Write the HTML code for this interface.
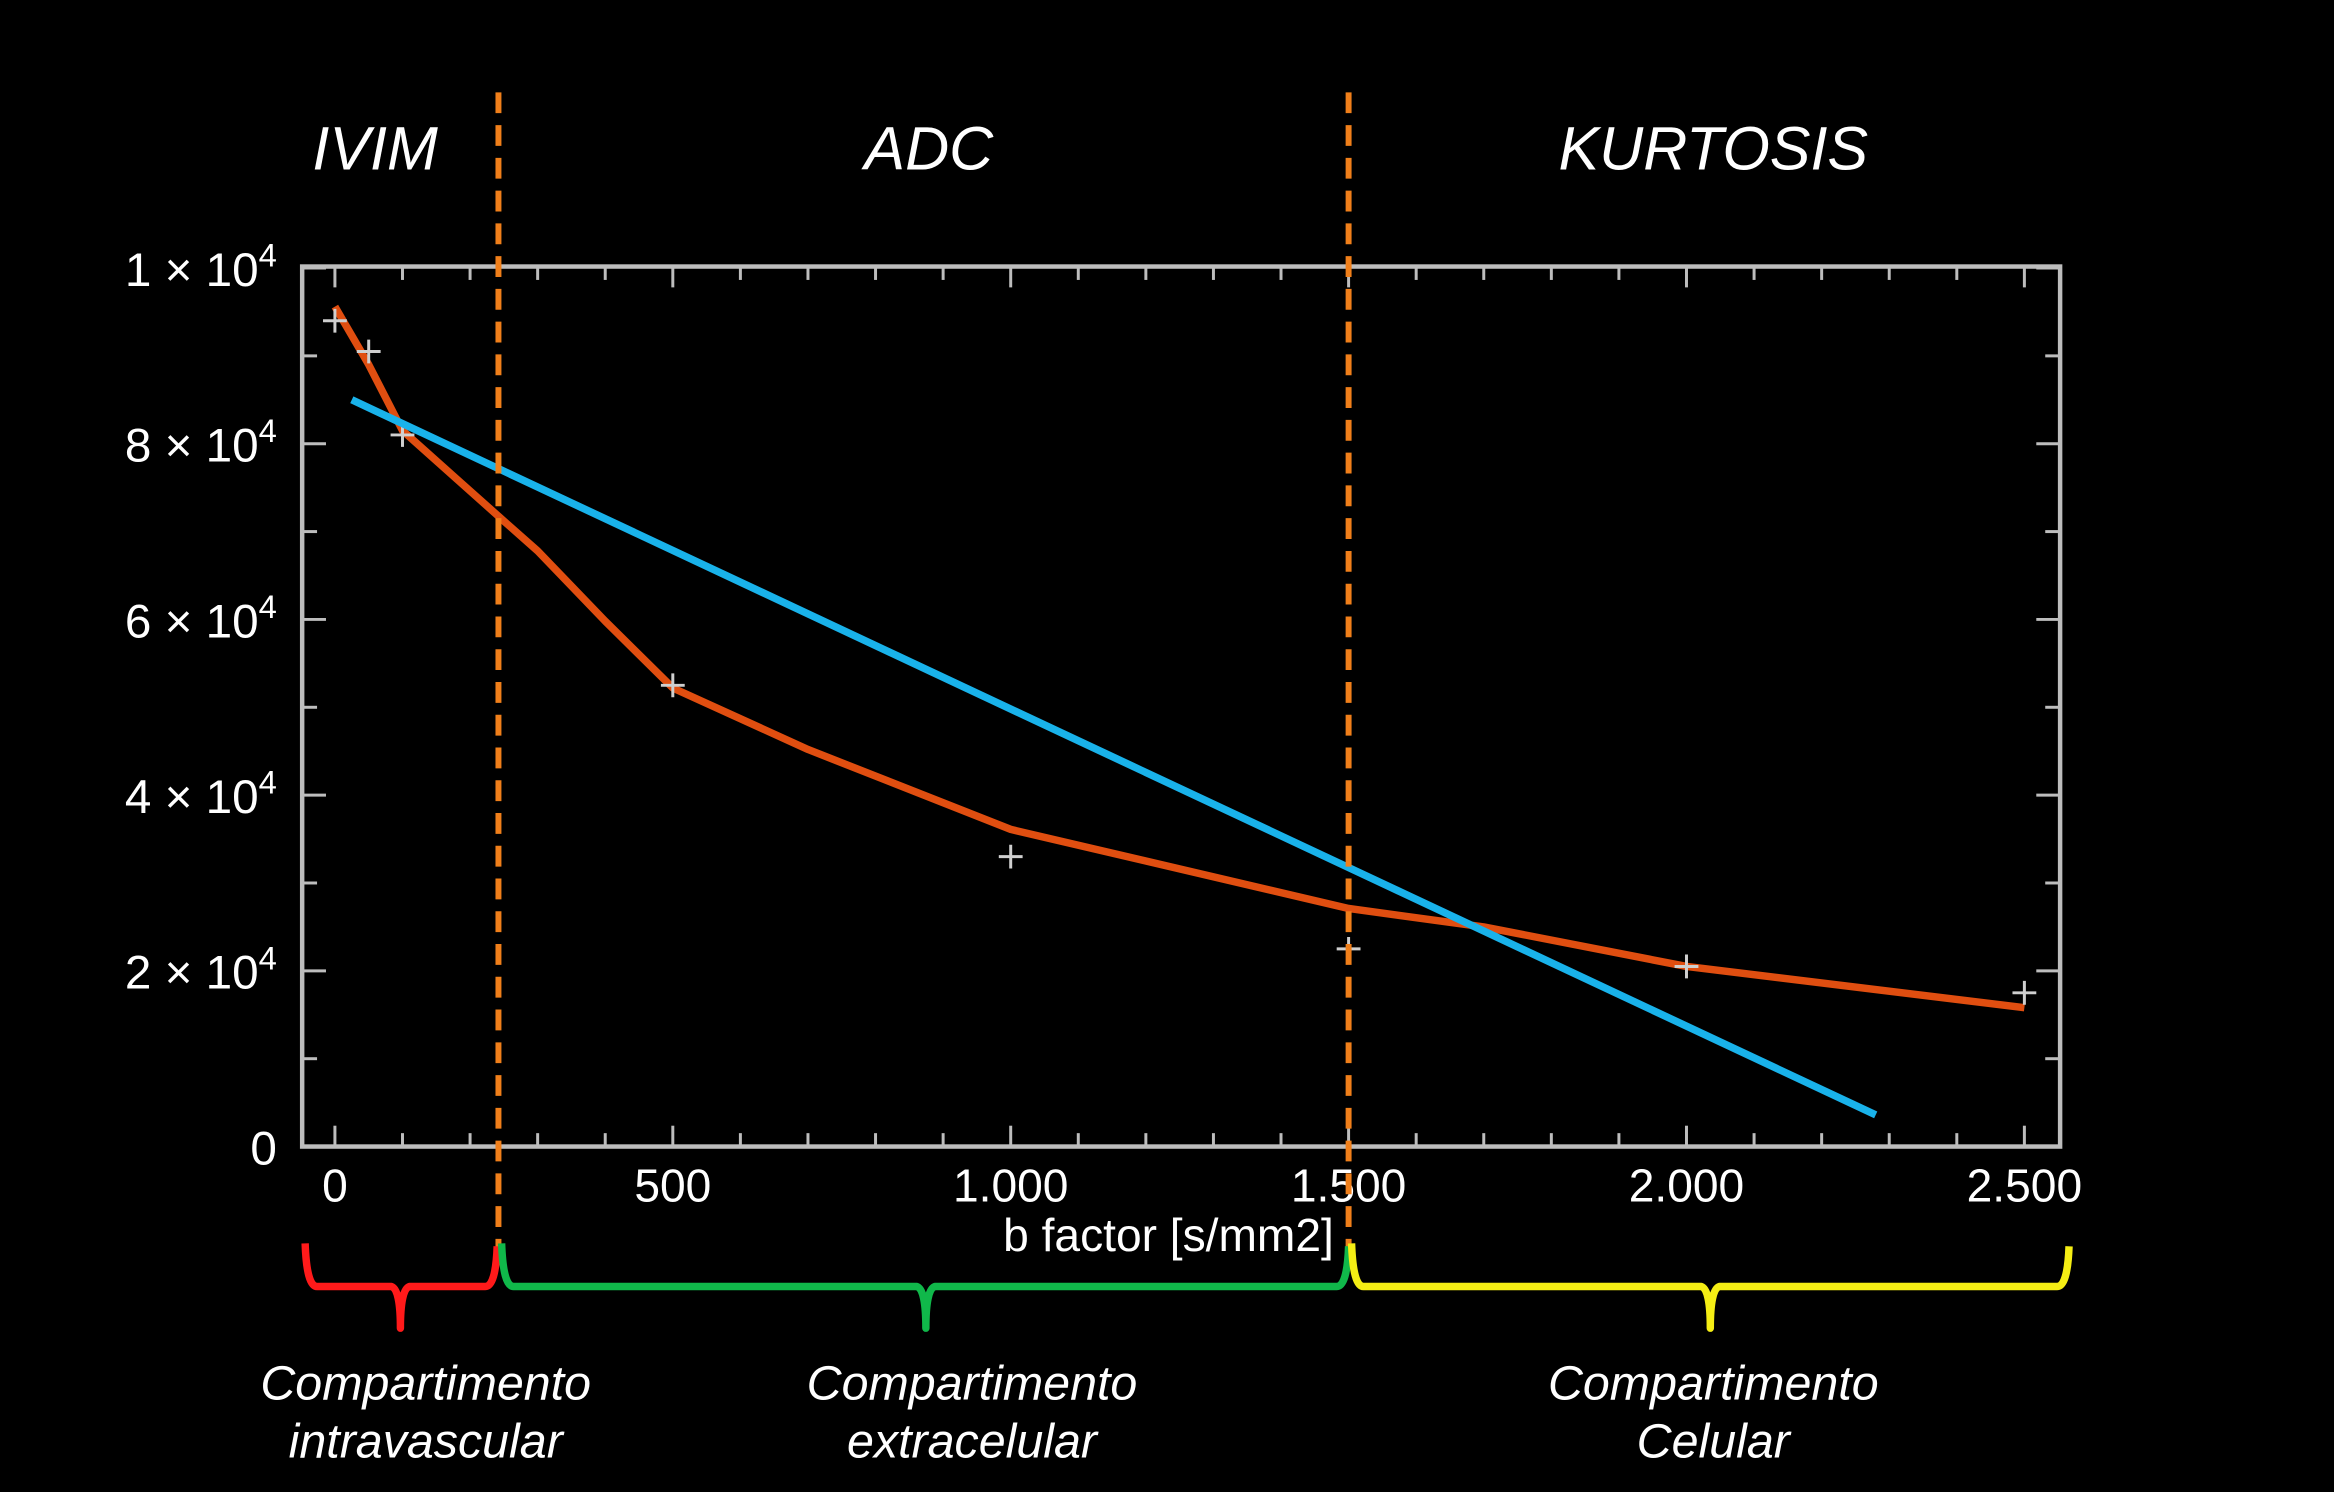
<!DOCTYPE html>
<html><head><meta charset="utf-8"><style>
html,body{margin:0;padding:0;background:#000;}
svg{display:block;}
text{font-family:"Liberation Sans",sans-serif;fill:#fff;}
</style></head><body>
<svg id="chart" width="2334" height="1492" viewBox="0 0 1568 1002" preserveAspectRatio="none">
<rect width="1568" height="1002" fill="#000"/>
<g id="g"></g>
</svg>
<script>
const xTickValues=[0,500,1000,1500,2000,2500];
const xTickLabels=["0","500","1.000","1.500","2.000","2.500"];
const yTickValues=[0,20000,40000,60000,80000,100000];
const yTickLabels=["0","2","4","6","8","1"];
const fitB=[0,50,100,180,250,300,400,500,700,1000,1200,1500,1700,2000,2500];
const fitS=[95600,89000,81500,76000,71200,67800,59800,52200,45200,36100,32500,27100,25000,20500,15800];
const dataB=[0,50,100,500,1000,1500,2000,2500];
const dataS=[94000,90500,81000,52500,33000,22500,20500,17500];
const lineB=[25,2280];
const lineS=[85000,3600];
const boundaries=[242,1500];

const NS="http://www.w3.org/2000/svg";
const g=document.getElementById('g');
const X0=225,XK=0.454,Y0=770,YK=0.0059;
const xs=b=>X0+b*XK, ys=v=>Y0-v*YK;
function mk(t,a,p){const e=document.createElementNS(NS,t);for(const k in a)e.setAttribute(k,a[k]);(p||g).appendChild(e);return e;}

let e=mk('rect',{x:203,y:179,width:1181,height:591,fill:'none',stroke:'#bdbdbd','stroke-width':3});


for(let b=0;b<=2500;b+=100){
  const x=xs(b),L=(b%500===0)?14:9;
  e=mk('line',{x1:x,y1:770,x2:x,y2:770-L,stroke:'#bdbdbd','stroke-width':2});
  
  
  e=mk('line',{x1:x,y1:179,x2:x,y2:179+L,stroke:'#bdbdbd','stroke-width':2});
  
  
}
for(let v=0;v<=100000;v+=10000){
  const y=ys(v),L=(v%20000===0)?16:10;
  e=mk('line',{x1:203,y1:y,x2:203+L,y2:y,stroke:'#bdbdbd','stroke-width':2});
  
  
  e=mk('line',{x1:1384,y1:y,x2:1384-L,y2:y,stroke:'#bdbdbd','stroke-width':2});
  
  
}
xTickValues.forEach((b,i)=>{
  e=mk('text',{x:xs(b),y:807,'text-anchor':'middle','font-size':31});
  e.textContent=xTickLabels[i];
  
  
});
yTickValues.forEach((v,i)=>{
  const y=ys(v)+12;
  e=mk('text',{x:186,y:y,'text-anchor':'end','font-size':32});
  if(v===0){e.textContent='0';}
  else{e.innerHTML=yTickLabels[i]+' \u00d7 10<tspan dy="-13" font-size="22">4</tspan>';}
  
  
});
e=mk('text',{x:785,y:840,'text-anchor':'middle','font-size':31});
e.textContent='b factor [s/mm2]';



e=mk('polyline',{points:fitB.map((b,i)=>xs(b)+','+ys(fitS[i])).join(' '),fill:'none',stroke:'#e04e10','stroke-width':5,'stroke-linejoin':'round'});


dataB.forEach((b,i)=>{
  const x=xs(b),y=ys(dataS[i]);
  e=mk('path',{d:`M${x-8},${y}H${x+8}M${x},${y-8}V${y+8}`,stroke:'#cfcfcf','stroke-width':2});
  
  
});
e=mk('line',{x1:xs(lineB[0]),y1:ys(lineS[0]),x2:xs(lineB[1]),y2:ys(lineS[1]),stroke:'#19b2ea','stroke-width':5});


boundaries.forEach(b=>{
  e=mk('line',{x1:xs(b),y1:62,x2:xs(b),y2:838,stroke:'#f07f1a','stroke-width':4,'stroke-dasharray':'14 8'});
  
  
});
[['IVIM',252,'ivim-label'],['ADC',624,'adc-label'],['KURTOSIS',1151,'kurtosis-label']].forEach(t=>{
  e=mk('text',{x:t[1],y:114,'text-anchor':'middle','font-size':41,'font-style':'italic'});
  e.textContent=t[0];
  
  
});
function brace(x1,x2,tip,col,name){
  const d=`M${x1},835 Q${x1+1},864 ${x1+8},864 L${tip-6},864 Q${tip},866 ${tip},892 Q${tip},866 ${tip+6},864 L${x2-8},864 Q${x2-1},864 ${x2},837`;
  e=mk('path',{d:d,fill:'none',stroke:col,'stroke-width':5,'stroke-linejoin':'round'});
  
  
}
brace(205,334,269,'#ff1a1a','intravascular-brace');
brace(337,906,622,'#10b84a','extracellular-brace');
brace(908,1390,1149,'#f5ee14','cellular-brace');
[['Compartimento','intravascular',286,'intravascular-label'],['Compartimento','extracelular',653,'extracellular-label'],['Compartimento','Celular',1151,'cellular-label']].forEach(t=>{
  e=mk('text',{x:t[2],y:940,'text-anchor':'middle','font-size':32.5,'font-style':'italic'});
  e.innerHTML=`<tspan x="${t[2]}">${t[0]}</tspan><tspan x="${t[2]}" dy="39">${t[1]}</tspan>`;
  
  
});
</script>
</body></html>
